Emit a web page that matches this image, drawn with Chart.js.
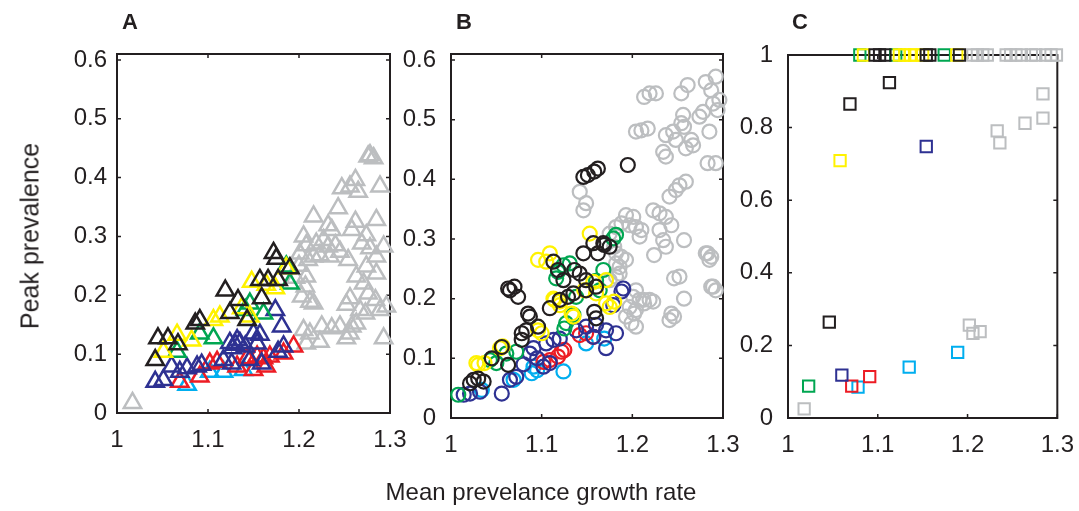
<!DOCTYPE html>
<html>
<head>
<meta charset="utf-8">
<script src="https://cdn.jsdelivr.net/npm/chart.js@4.4.1/dist/chart.umd.min.js"></script>
<style>
  body { margin: 0; background: #fff; }
  #wrap { position: relative; width: 1079px; height: 511px; font-family: 'Liberation Sans', Arial, sans-serif; color: #231f20; }
  canvas { position: absolute; left: 0; top: 0; }
  .tag { position: absolute; font-weight: bold; font-size: 22px; top: 9px; }
  #ylab { position: absolute; left: 30px; top: 236px; font-size: 25px; white-space: nowrap;
          transform: translate(-50%, -50%) rotate(-90deg); }
  #xlab { position: absolute; left: 541px; top: 492px; font-size: 24px; white-space: nowrap;
          transform: translate(-50%, -50%); }
</style>
</head>
<body>
<div id="wrap">
  <canvas id="panelA" width="1079" height="511"></canvas>
  <canvas id="panelB" width="1079" height="511"></canvas>
  <canvas id="panelC" width="1079" height="511"></canvas>
  <div class="tag" style="left:122px">A</div>
  <div class="tag" style="left:456px">B</div>
  <div class="tag" style="left:792px">C</div>
  <div id="ylab">Peak prevalence</div>
  <div id="xlab">Mean prevelance growth rate</div>
</div>
<script>
// tick labels
const xTicks = [1, 1.1, 1.2, 1.3];
const yTicksAB = [0, 0.1, 0.2, 0.3, 0.4, 0.5, 0.6];
const yTicksC = [0, 0.2, 0.4, 0.6, 0.8, 1];

// panel A: growth rate vs peak prevalence (triangles)
const aBlack = [[1.172,0.272],[1.175,0.262],[1.119,0.208],[1.133,0.192],[1.157,0.226],[1.166,0.226],[1.159,0.195],[1.124,0.170],[1.143,0.158],[1.086,0.152],[1.091,0.158],[1.045,0.127],[1.056,0.127],[1.067,0.117],[1.042,0.090],[1.190,0.246],[1.177,0.226]];
const aYellow = [[1.148,0.223],[1.066,0.133],[1.051,0.104],[1.082,0.123],[1.106,0.158],[1.113,0.164],[1.137,0.178],[1.164,0.218],[1.174,0.212],[1.186,0.246],[1.146,0.164]];
const aGreen = [[1.186,0.249],[1.190,0.220],[1.141,0.175],[1.161,0.169],[1.091,0.135],[1.106,0.127],[1.066,0.104],[1.146,0.186]];
const aBlue = [[1.174,0.175],[1.181,0.147],[1.124,0.119],[1.130,0.116],[1.135,0.119],[1.127,0.110],[1.141,0.113],[1.132,0.124],[1.150,0.135],[1.157,0.133],[1.154,0.118],[1.183,0.113],[1.042,0.053],[1.051,0.056],[1.069,0.070],[1.077,0.076],[1.088,0.079],[1.093,0.082],[1.117,0.090],[1.126,0.084],[1.146,0.090],[1.159,0.084],[1.177,0.104],[1.060,0.079]];
const aRed = [[1.194,0.113],[1.102,0.084],[1.110,0.087],[1.143,0.093],[1.154,0.096],[1.161,0.093],[1.168,0.096],[1.150,0.073],[1.164,0.079],[1.091,0.062],[1.069,0.053],[1.132,0.079],[1.183,0.101]];
const aCyan = [[1.077,0.048],[1.102,0.070],[1.117,0.070],[1.139,0.073]];
const aGrey = [[1.017,0.017],[1.278,0.438],[1.276,0.436],[1.282,0.433],[1.289,0.385],[1.262,0.396],[1.256,0.385],[1.247,0.382],[1.265,0.376],[1.243,0.348],[1.216,0.334],[1.232,0.319],[1.236,0.311],[1.262,0.325],[1.258,0.311],[1.274,0.302],[1.285,0.328],[1.205,0.300],[1.208,0.285],[1.219,0.288],[1.227,0.294],[1.232,0.283],[1.240,0.285],[1.245,0.274],[1.201,0.271],[1.210,0.260],[1.216,0.266],[1.223,0.268],[1.234,0.266],[1.269,0.288],[1.278,0.280],[1.293,0.283],[1.285,0.266],[1.254,0.260],[1.274,0.249],[1.285,0.237],[1.263,0.232],[1.271,0.220],[1.208,0.232],[1.207,0.215],[1.203,0.198],[1.212,0.189],[1.216,0.186],[1.256,0.195],[1.252,0.184],[1.276,0.203],[1.284,0.192],[1.289,0.175],[1.267,0.175],[1.273,0.169],[1.296,0.181],[1.225,0.147],[1.236,0.144],[1.245,0.147],[1.258,0.147],[1.263,0.152],[1.205,0.141],[1.212,0.135],[1.208,0.118],[1.223,0.121],[1.256,0.135],[1.252,0.127],[1.293,0.127],[1.196,0.230],[1.200,0.250]];

// panel B (circles)
const bBlack = [[1.065,0.214],[1.070,0.220],[1.074,0.203],[1.063,0.217],[1.025,0.064],[1.030,0.066],[1.036,0.061],[1.021,0.058],[1.045,0.100],[1.056,0.119],[1.063,0.089],[1.078,0.142],[1.083,0.147],[1.078,0.131],[1.087,0.170],[1.085,0.175],[1.096,0.153],[1.109,0.184],[1.120,0.198],[1.129,0.203],[1.135,0.209],[1.149,0.214],[1.160,0.220],[1.142,0.242],[1.149,0.231],[1.146,0.276],[1.157,0.293],[1.168,0.293],[1.162,0.276],[1.124,0.231],[1.118,0.248],[1.160,0.167],[1.113,0.262],[1.146,0.404],[1.151,0.407],[1.158,0.413],[1.162,0.418],[1.195,0.424],[1.169,0.290],[1.175,0.287],[1.158,0.178],[1.136,0.248]];
const bYellow = [[1.096,0.265],[1.105,0.262],[1.109,0.276],[1.030,0.089],[1.037,0.092],[1.054,0.117],[1.096,0.147],[1.100,0.142],[1.113,0.200],[1.120,0.195],[1.133,0.175],[1.153,0.309],[1.171,0.231],[1.175,0.186],[1.180,0.195],[1.160,0.209],[1.028,0.092],[1.057,0.120],[1.120,0.189],[1.135,0.170],[1.147,0.214],[1.157,0.228],[1.114,0.198],[1.171,0.192]];
const bGreen = [[1.182,0.307],[1.179,0.301],[1.131,0.259],[1.124,0.256],[1.118,0.245],[1.116,0.234],[1.168,0.248],[1.164,0.214],[1.135,0.173],[1.127,0.159],[1.125,0.150],[1.008,0.039],[1.043,0.097],[1.050,0.092],[1.061,0.108],[1.072,0.111],[1.138,0.203],[1.160,0.230]];
const bBlue = [[1.190,0.217],[1.188,0.212],[1.014,0.039],[1.021,0.041],[1.032,0.044],[1.056,0.041],[1.072,0.069],[1.065,0.064],[1.087,0.108],[1.091,0.117],[1.105,0.125],[1.113,0.131],[1.120,0.133],[1.109,0.092],[1.102,0.086],[1.138,0.147],[1.149,0.153],[1.160,0.156],[1.171,0.147],[1.182,0.142],[1.171,0.117],[1.179,0.189],[1.157,0.136],[1.095,0.100],[1.080,0.090]];
const bRed = [[1.102,0.094],[1.109,0.097],[1.118,0.103],[1.122,0.111],[1.125,0.114],[1.142,0.139],[1.149,0.142],[1.157,0.136]];
const bCyan = [[1.034,0.047],[1.069,0.064],[1.091,0.086],[1.089,0.075],[1.124,0.078],[1.149,0.125],[1.169,0.133],[1.095,0.080]];
const bGrey = [[1.219,0.544],[1.226,0.544],[1.213,0.538],[1.261,0.558],[1.254,0.544],[1.281,0.563],[1.292,0.572],[1.287,0.549],[1.296,0.533],[1.289,0.527],[1.278,0.513],[1.274,0.505],[1.294,0.516],[1.256,0.508],[1.254,0.494],[1.257,0.488],[1.210,0.482],[1.217,0.485],[1.204,0.480],[1.237,0.474],[1.245,0.480],[1.248,0.466],[1.265,0.466],[1.267,0.457],[1.259,0.452],[1.285,0.480],[1.234,0.446],[1.237,0.438],[1.283,0.427],[1.292,0.427],[1.142,0.379],[1.149,0.360],[1.146,0.348],[1.241,0.371],[1.252,0.390],[1.259,0.396],[1.248,0.382],[1.223,0.348],[1.230,0.343],[1.237,0.337],[1.243,0.323],[1.193,0.340],[1.201,0.337],[1.188,0.326],[1.197,0.323],[1.182,0.320],[1.175,0.309],[1.204,0.320],[1.210,0.315],[1.208,0.304],[1.230,0.315],[1.234,0.298],[1.237,0.287],[1.224,0.273],[1.257,0.298],[1.283,0.276],[1.287,0.270],[1.180,0.287],[1.188,0.270],[1.182,0.259],[1.186,0.242],[1.193,0.265],[1.252,0.237],[1.246,0.234],[1.287,0.220],[1.292,0.214],[1.204,0.214],[1.208,0.198],[1.213,0.192],[1.219,0.198],[1.197,0.186],[1.202,0.175],[1.257,0.200],[1.243,0.175],[1.246,0.170],[1.241,0.164],[1.193,0.170],[1.199,0.159],[1.204,0.153],[1.281,0.276],[1.285,0.265],[1.289,0.220],[1.223,0.195],[1.212,0.198],[1.201,0.203],[1.204,0.181],[1.182,0.276],[1.186,0.253],[1.175,0.231],[1.182,0.237]];

// panel C (squares)
const cBlack = [[1.069,0.865],[1.113,0.924],[1.046,0.264],[1.097,1],[1.102,1],[1.108,1],[1.154,1],[1.158,1],[1.191,1]];
const cYellow = [[1.058,0.709],[1.084,1],[1.124,1],[1.130,1],[1.136,1],[1.141,1],[1.150,1],[1.188,1]];
const cGreen = [[1.023,0.088],[1.080,1],[1.120,1],[1.174,1]];
const cBlue = [[1.154,0.748],[1.060,0.118]];
const cRed = [[1.071,0.088],[1.091,0.114]];
const cCyan = [[1.078,0.085],[1.135,0.140],[1.189,0.181]];
const cGrey = [[1.018,0.025],[1.233,0.791],[1.236,0.758],[1.264,0.812],[1.284,0.893],[1.284,0.826],[1.202,0.256],[1.206,0.233],[1.214,0.238],[1.206,1],[1.211,1],[1.217,1],[1.222,1],[1.243,1],[1.248,1],[1.254,1],[1.260,1],[1.271,1],[1.276,1],[1.287,1],[1.293,1],[1.299,1]];

const COLORS = {
  black: '#231f20', yellow: '#fff200', green: '#00a651', blue: '#2e3192',
  red: '#ed1c24', cyan: '#00aeef', grey: '#bcbec0'
};
const INK = '#231f20';
const FONT = "'Liberation Sans', Arial, sans-serif";

// box around the axes plus short inward ticks on all four sides
const boxPlugin = {
  id: 'box',
  beforeDatasetsDraw(chart) {
    const { ctx, chartArea: { left, right, top, bottom }, scales: { x, y } } = chart;
    ctx.save();
    ctx.strokeStyle = INK;
    ctx.lineWidth = 2;
    ctx.strokeRect(left, top, right - left, bottom - top);
    ctx.lineWidth = 1.5;
    ctx.beginPath();
    x.ticks.forEach(t => {
      const px = x.getPixelForValue(t.value);
      ctx.moveTo(px, bottom); ctx.lineTo(px, bottom - 4);
      ctx.moveTo(px, top); ctx.lineTo(px, top + 4);
    });
    y.ticks.forEach(t => {
      const py = y.getPixelForValue(t.value);
      ctx.moveTo(left, py); ctx.lineTo(left + 4, py);
      ctx.moveTo(right, py); ctx.lineTo(right - 4, py);
    });
    ctx.stroke();
    ctx.restore();
  }
};

function toPoints(pairs) {
  return pairs.map(p => ({ x: p[0], y: p[1] }));
}

function makePanel(id, area, yMax, yTicks, groups, marker, labelGap) {
  const yW = 60;
  // first dataset ends up on top
  const datasets = groups.map(([pairs, color]) => ({
    data: toPoints(pairs),
    pointStyle: marker.style,
    pointRadius: marker.radius,
    pointBorderWidth: marker.width,
    pointBorderColor: color,
    pointBackgroundColor: 'rgba(0,0,0,0)',
    showLine: false,
    clip: false
  }));

  return new Chart(document.getElementById(id), {
    type: 'scatter',
    data: { datasets },
    options: {
      responsive: false,
      animation: false,
      events: [],
      layout: {
        padding: { left: area.left - yW, right: 1079 - area.right, top: area.top, bottom: 0 }
      },
      plugins: { legend: { display: false }, tooltip: { enabled: false } },
      scales: {
        x: {
          type: 'linear', min: 1, max: 1.3,
          grid: { display: false }, border: { display: false },
          afterBuildTicks: s => { s.ticks = xTicks.map(v => ({ value: v })); },
          afterFit: s => { s.height = 511 - area.bottom; },
          ticks: { color: INK, font: { family: FONT, size: 24 }, padding: 5, maxRotation: 0,
                   callback: v => String(v) }
        },
        y: {
          type: 'linear', min: 0, max: yMax,
          grid: { display: false }, border: { display: false },
          afterBuildTicks: s => { s.ticks = yTicks.map(v => ({ value: v })); },
          afterFit: s => { s.width = yW; },
          ticks: { color: INK, font: { family: FONT, size: 24 }, padding: labelGap,
                   callback: v => String(v) }
        }
      }
    },
    plugins: [boxPlugin]
  });
}

makePanel('panelA', { left: 117, right: 390, top: 54, bottom: 413 }, 0.61, yTicksAB, [
  [aBlack, COLORS.black], [aYellow, COLORS.yellow], [aGreen, COLORS.green],
  [aBlue, COLORS.blue], [aRed, COLORS.red], [aCyan, COLORS.cyan], [aGrey, COLORS.grey]
], { style: 'triangle', radius: 10, width: 2.5 }, 2);

makePanel('panelB', { left: 451, right: 723, top: 54, bottom: 418 }, 0.61, yTicksAB, [
  [bBlack, COLORS.black], [bYellow, COLORS.yellow], [bGreen, COLORS.green],
  [bBlue, COLORS.blue], [bRed, COLORS.red], [bCyan, COLORS.cyan], [bGrey, COLORS.grey]
], { style: 'circle', radius: 7, width: 2.2 }, 7);

makePanel('panelC', { left: 788, right: 1060, top: 55, bottom: 418 }, 1, yTicksC, [
  [cBlack, COLORS.black], [cYellow, COLORS.yellow], [cGreen, COLORS.green],
  [cBlue, COLORS.blue], [cRed, COLORS.red], [cCyan, COLORS.cyan], [cGrey, COLORS.grey]
], { style: 'rect', radius: 8, width: 2 }, 7);
</script>
</body>
</html>
